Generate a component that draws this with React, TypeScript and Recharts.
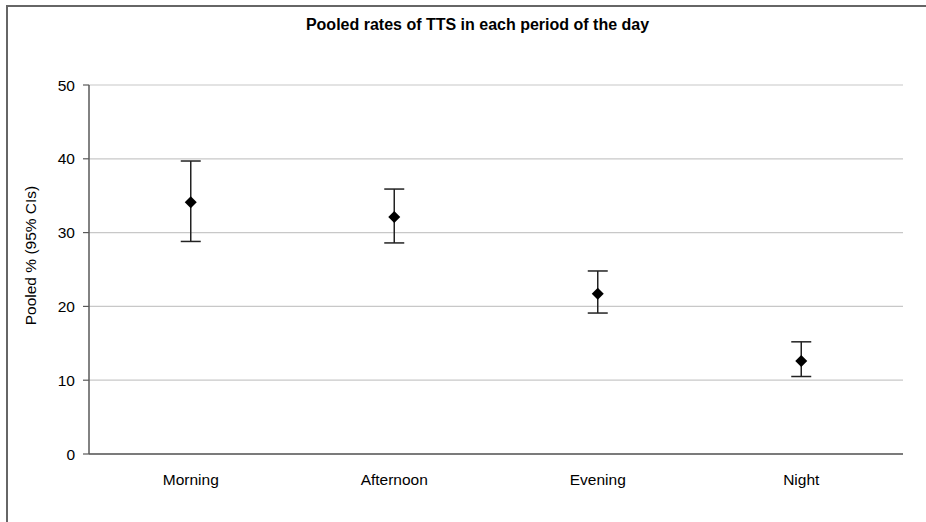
import { ComposedChart, Scatter, ErrorBar, XAxis, YAxis, CartesianGrid } from 'recharts'

const periods = ['Morning', 'Afternoon', 'Evening', 'Night']
const pooled = [34.1, 32.1, 21.7, 12.6]
const lowerCI = [28.8, 28.6, 19.1, 10.5]
const upperCI = [39.7, 35.9, 24.8, 15.2]
const yTicks = [0, 10, 20, 30, 40, 50]
const boundaryTicks = [0, 1, 2, 3, 4]

const data = periods.map((name, i) => ({
  name,
  mean: pooled[i],
  errorY: [pooled[i] - lowerCI[i], upperCI[i] - pooled[i]],
}))

const FONT = '"Liberation Sans", Arial, sans-serif'
const AXIS = '#595959'

function Diamond(props: any) {
  const { cx, cy } = props
  if (cx == null || cy == null) return null
  const r = 6
  return <path d={`M${cx},${cy - r}L${cx + r},${cy}L${cx},${cy + r}L${cx - r},${cy}Z`} fill="#000" />
}

function YTitle(props: any) {
  const { x, y, height } = props.viewBox
  const cx = x + 1
  const cy = y + height / 2 - 14
  return (
    <text
      x={cx}
      y={cy}
      transform={`rotate(-90, ${cx}, ${cy})`}
      textAnchor="middle"
      dominantBaseline="central"
      fontSize={15.5}
      fill="#000"
      fontFamily={FONT}
    >
      Pooled % (95% CIs)
    </text>
  )
}

export default function App() {
  return (
    <div style={{ position: 'absolute', left: 0, top: 0, width: 926, height: 522, background: '#fff', fontFamily: FONT }}>
      <div
        style={{
          position: 'absolute',
          left: 6,
          top: 5,
          right: 0,
          bottom: 0,
          borderTop: '2px solid #666',
          borderLeft: '2px solid #666',
        }}
      />
      <div
        style={{
          position: 'absolute',
          left: 0,
          top: 16,
          width: 955,
          textAlign: 'center',
          fontSize: 16,
          fontWeight: 'bold',
          color: '#000',
        }}
      >
        Pooled rates of TTS in each period of the day
      </div>
      <div style={{ position: 'absolute', left: 0, top: 0 }}>
        <ComposedChart
          width={926}
          height={522}
          data={data}
          margin={{ top: 85, right: 23, bottom: 20, left: 29 }}
          style={{ fontFamily: FONT }}
        >
          <CartesianGrid xAxisId="b1" vertical={false} stroke="#c8c8c8" strokeWidth={1.2} />
          <XAxis
            xAxisId="a0"
            type="number"
            domain={[0, 4]}
            ticks={boundaryTicks}
            tick={false}
            height={8}
            tickSize={6}
            axisLine={{ stroke: AXIS, strokeWidth: 1.5 }}
            tickLine={{ stroke: AXIS, strokeWidth: 1.2 }}
          />
          <XAxis
            xAxisId="b1"
            dataKey="name"
            type="category"
            scale="band"
            height={40}
            axisLine={false}
            tickLine={false}
            tickSize={0}
            tickMargin={12}
            tick={{ fontSize: 15.5, fill: '#000' }}
          />
          <YAxis
            domain={[0, 50]}
            ticks={yTicks}
            width={60}
            tickSize={6}
            tickMargin={8}
            axisLine={{ stroke: AXIS, strokeWidth: 1.5 }}
            tickLine={{ stroke: AXIS, strokeWidth: 1.2 }}
            tick={{ fontSize: 15.5, fill: '#000' }}
            label={(p: any) => <YTitle {...p} />}
          />
          <Scatter xAxisId="b1" dataKey="mean" shape={<Diamond />} isAnimationActive={false}>
            <ErrorBar dataKey="errorY" direction="y" width={10} stroke="#222" strokeWidth={1.5} isAnimationActive={false} />
          </Scatter>
        </ComposedChart>
      </div>
    </div>
  )
}
